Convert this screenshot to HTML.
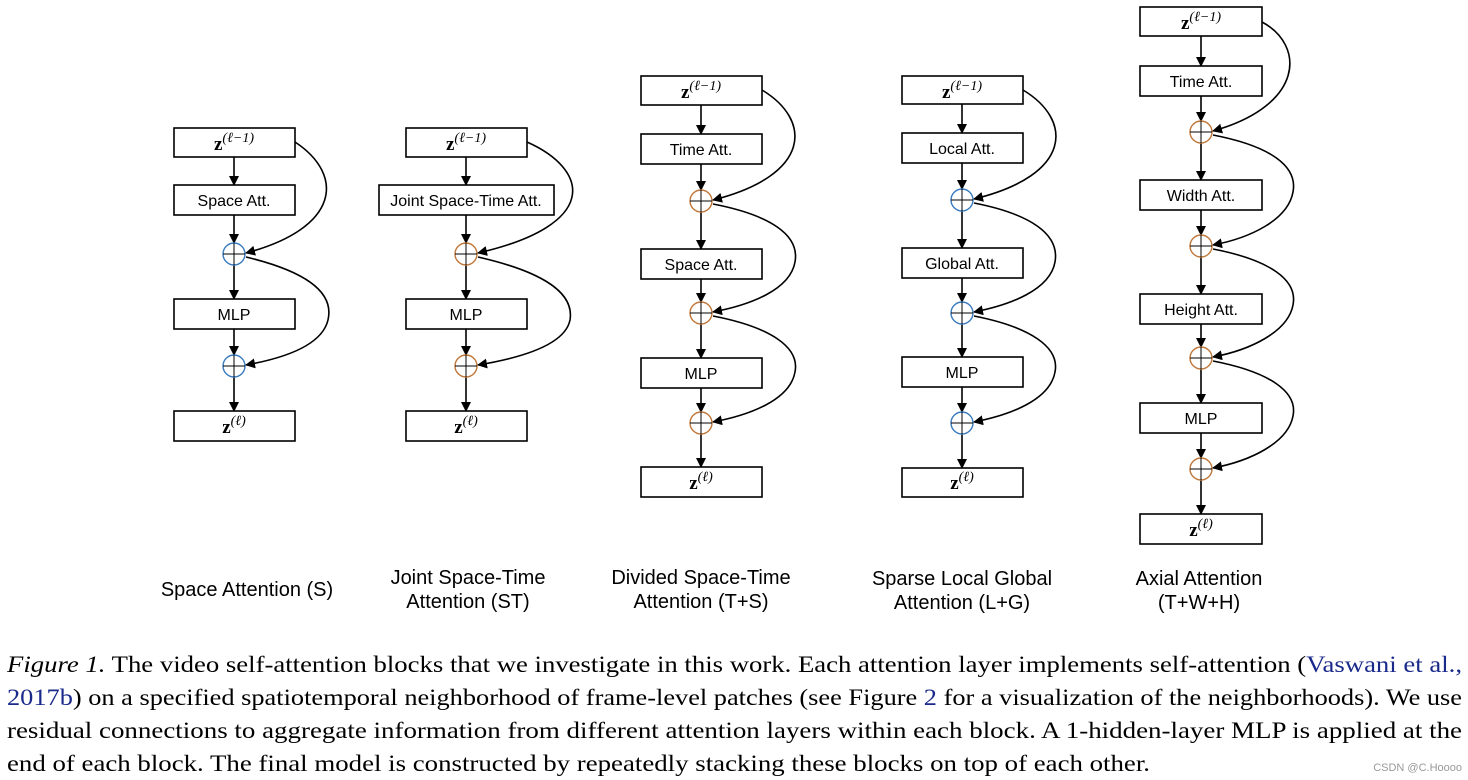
<!DOCTYPE html>
<html><head><meta charset="utf-8"><style>
html,body{margin:0;padding:0;background:#fff;}
svg{display:block;}
.b{fill:#fff;stroke:#000;stroke-width:1.6;}
.l{stroke:#000;stroke-width:1.6;fill:none;}
.t{font-family:"Liberation Sans",sans-serif;font-size:16px;text-anchor:middle;}
.z{font-family:"Liberation Serif",serif;font-size:19px;font-weight:bold;text-anchor:middle;}
.cap{font-family:"Liberation Sans",sans-serif;font-size:20px;text-anchor:middle;}
.s{font-family:"Liberation Serif",serif;font-size:23.5px;}
</style></head><body>
<svg width="1468" height="780" xmlns="http://www.w3.org/2000/svg">
<defs><marker id="a" markerWidth="10" markerHeight="10" refX="9" refY="5" orient="auto" markerUnits="userSpaceOnUse"><path d="M0,0 L10,5 L0,10 z" fill="#000"/></marker></defs>

<g>
<line class="l" x1="234" y1="157" x2="234" y2="185" marker-end="url(#a)"/>
<line class="l" x1="234" y1="215" x2="234" y2="243" marker-end="url(#a)"/>
<line class="l" x1="234" y1="265" x2="234" y2="299" marker-end="url(#a)"/>
<line class="l" x1="234" y1="329" x2="234" y2="355" marker-end="url(#a)"/>
<line class="l" x1="234" y1="377" x2="234" y2="411" marker-end="url(#a)"/>
<rect class="b" x="174" y="128" width="121" height="29"/><text class="z" x="234" y="150">z<tspan font-size="14" font-weight="normal" font-style="italic" dy="-8">(ℓ−1)</tspan></text>
<rect class="b" x="174" y="185" width="121" height="30"/><text class="t" x="234" y="206">Space Att.</text>
<rect class="b" x="174" y="299" width="121" height="30"/><text class="t" x="234" y="320">MLP</text>
<rect class="b" x="174" y="411" width="121" height="30"/><text class="z" x="234" y="433">z<tspan font-size="14" font-weight="normal" font-style="italic" dy="-8">(ℓ)</tspan></text>
<circle cx="234" cy="254" r="11" fill="#fff" stroke="#3a7bbf" stroke-width="1.4"/><path d="M223,254H245M234,243V265" stroke="#000" stroke-width="1"/>
<circle cx="234" cy="366" r="11" fill="#fff" stroke="#3a7bbf" stroke-width="1.4"/><path d="M223,366H245M234,355V377" stroke="#000" stroke-width="1"/>
<path class="l" d="M295,142 C345,175 340,228 246,253" marker-end="url(#a)"/>
<path class="l" d="M246,257 C300,270 335,290 328,320 C322,345 285,358 246,365" marker-end="url(#a)"/>
</g>

<g>
<line class="l" x1="466" y1="157" x2="466" y2="185" marker-end="url(#a)"/>
<line class="l" x1="466" y1="215" x2="466" y2="243" marker-end="url(#a)"/>
<line class="l" x1="466" y1="265" x2="466" y2="299" marker-end="url(#a)"/>
<line class="l" x1="466" y1="329" x2="466" y2="355" marker-end="url(#a)"/>
<line class="l" x1="466" y1="377" x2="466" y2="411" marker-end="url(#a)"/>
<rect class="b" x="406" y="128" width="121" height="29"/><text class="z" x="466" y="150">z<tspan font-size="14" font-weight="normal" font-style="italic" dy="-8">(ℓ−1)</tspan></text>
<rect class="b" x="379" y="185" width="175" height="30"/><text class="t" x="466" y="206">Joint Space-Time Att.</text>
<rect class="b" x="406" y="299" width="121" height="30"/><text class="t" x="466" y="320">MLP</text>
<rect class="b" x="406" y="411" width="121" height="30"/><text class="z" x="466" y="433">z<tspan font-size="14" font-weight="normal" font-style="italic" dy="-8">(ℓ)</tspan></text>
<circle cx="466" cy="254" r="11" fill="#fff" stroke="#c0773a" stroke-width="1.4"/><path d="M455,254H477M466,243V265" stroke="#000" stroke-width="1"/>
<circle cx="466" cy="366" r="11" fill="#fff" stroke="#c0773a" stroke-width="1.4"/><path d="M455,366H477M466,355V377" stroke="#000" stroke-width="1"/>
<path class="l" d="M527,142 C590,170 600,225 478,253" marker-end="url(#a)"/>
<path class="l" d="M478,257 C535,270 575,290 570,320 C565,345 520,358 478,365" marker-end="url(#a)"/>
</g>

<g>
<line class="l" x1="701" y1="105" x2="701" y2="134" marker-end="url(#a)"/>
<line class="l" x1="701" y1="164" x2="701" y2="190" marker-end="url(#a)"/>
<line class="l" x1="701" y1="212" x2="701" y2="249" marker-end="url(#a)"/>
<line class="l" x1="701" y1="279" x2="701" y2="302" marker-end="url(#a)"/>
<line class="l" x1="701" y1="324" x2="701" y2="358" marker-end="url(#a)"/>
<line class="l" x1="701" y1="388" x2="701" y2="412" marker-end="url(#a)"/>
<line class="l" x1="701" y1="434" x2="701" y2="467" marker-end="url(#a)"/>
<rect class="b" x="641" y="76" width="121" height="29"/><text class="z" x="701" y="98">z<tspan font-size="14" font-weight="normal" font-style="italic" dy="-8">(ℓ−1)</tspan></text>
<rect class="b" x="641" y="134" width="121" height="30"/><text class="t" x="701" y="155">Time Att.</text>
<rect class="b" x="641" y="249" width="121" height="30"/><text class="t" x="701" y="270">Space Att.</text>
<rect class="b" x="641" y="358" width="121" height="30"/><text class="t" x="701" y="379">MLP</text>
<rect class="b" x="641" y="467" width="121" height="30"/><text class="z" x="701" y="489">z<tspan font-size="14" font-weight="normal" font-style="italic" dy="-8">(ℓ)</tspan></text>
<circle cx="701" cy="201" r="11" fill="#fff" stroke="#c0773a" stroke-width="1.4"/><path d="M690,201H712M701,190V212" stroke="#000" stroke-width="1"/>
<circle cx="701" cy="313" r="11" fill="#fff" stroke="#c0773a" stroke-width="1.4"/><path d="M690,313H712M701,302V324" stroke="#000" stroke-width="1"/>
<circle cx="701" cy="423" r="11" fill="#fff" stroke="#c0773a" stroke-width="1.4"/><path d="M690,423H712M701,412V434" stroke="#000" stroke-width="1"/>
<path class="l" d="M762,90 C812,120 812,175 713,200" marker-end="url(#a)"/>
<path class="l" d="M713,204 C770,215 800,235 795,262 C790,290 750,305 713,312" marker-end="url(#a)"/>
<path class="l" d="M713,316 C770,327 800,347 795,372 C790,400 750,415 713,422" marker-end="url(#a)"/>
</g>

<g>
<line class="l" x1="962" y1="104" x2="962" y2="133" marker-end="url(#a)"/>
<line class="l" x1="962" y1="163" x2="962" y2="189" marker-end="url(#a)"/>
<line class="l" x1="962" y1="211" x2="962" y2="248" marker-end="url(#a)"/>
<line class="l" x1="962" y1="278" x2="962" y2="302" marker-end="url(#a)"/>
<line class="l" x1="962" y1="324" x2="962" y2="357" marker-end="url(#a)"/>
<line class="l" x1="962" y1="387" x2="962" y2="412" marker-end="url(#a)"/>
<line class="l" x1="962" y1="434" x2="962" y2="468" marker-end="url(#a)"/>
<rect class="b" x="902" y="76" width="121" height="28"/><text class="z" x="962" y="98">z<tspan font-size="14" font-weight="normal" font-style="italic" dy="-8">(ℓ−1)</tspan></text>
<rect class="b" x="902" y="133" width="121" height="30"/><text class="t" x="962" y="154">Local Att.</text>
<rect class="b" x="902" y="248" width="121" height="30"/><text class="t" x="962" y="269">Global Att.</text>
<rect class="b" x="902" y="357" width="121" height="30"/><text class="t" x="962" y="378">MLP</text>
<rect class="b" x="902" y="468" width="121" height="29"/><text class="z" x="962" y="489">z<tspan font-size="14" font-weight="normal" font-style="italic" dy="-8">(ℓ)</tspan></text>
<circle cx="962" cy="200" r="11" fill="#fff" stroke="#3a7bbf" stroke-width="1.4"/><path d="M951,200H973M962,189V211" stroke="#000" stroke-width="1"/>
<circle cx="962" cy="313" r="11" fill="#fff" stroke="#3a7bbf" stroke-width="1.4"/><path d="M951,313H973M962,302V324" stroke="#000" stroke-width="1"/>
<circle cx="962" cy="423" r="11" fill="#fff" stroke="#3a7bbf" stroke-width="1.4"/><path d="M951,423H973M962,412V434" stroke="#000" stroke-width="1"/>
<path class="l" d="M1023,90 C1073,120 1073,175 974,199" marker-end="url(#a)"/>
<path class="l" d="M974,203 C1030,214 1060,234 1055,262 C1050,290 1010,305 974,312" marker-end="url(#a)"/>
<path class="l" d="M974,316 C1030,327 1060,347 1055,372 C1050,400 1010,415 974,422" marker-end="url(#a)"/>
</g>

<g>
<line class="l" x1="1201" y1="36" x2="1201" y2="66" marker-end="url(#a)"/>
<line class="l" x1="1201" y1="96" x2="1201" y2="121" marker-end="url(#a)"/>
<line class="l" x1="1201" y1="143" x2="1201" y2="180" marker-end="url(#a)"/>
<line class="l" x1="1201" y1="210" x2="1201" y2="235" marker-end="url(#a)"/>
<line class="l" x1="1201" y1="257" x2="1201" y2="294" marker-end="url(#a)"/>
<line class="l" x1="1201" y1="324" x2="1201" y2="347" marker-end="url(#a)"/>
<line class="l" x1="1201" y1="369" x2="1201" y2="403" marker-end="url(#a)"/>
<line class="l" x1="1201" y1="433" x2="1201" y2="458" marker-end="url(#a)"/>
<line class="l" x1="1201" y1="480" x2="1201" y2="514" marker-end="url(#a)"/>
<rect class="b" x="1140" y="7" width="122" height="29"/><text class="z" x="1201" y="29">z<tspan font-size="14" font-weight="normal" font-style="italic" dy="-8">(ℓ−1)</tspan></text>
<rect class="b" x="1140" y="66" width="122" height="30"/><text class="t" x="1201" y="87">Time Att.</text>
<rect class="b" x="1140" y="180" width="122" height="30"/><text class="t" x="1201" y="201">Width Att.</text>
<rect class="b" x="1140" y="294" width="122" height="30"/><text class="t" x="1201" y="315">Height Att.</text>
<rect class="b" x="1140" y="403" width="122" height="30"/><text class="t" x="1201" y="424">MLP</text>
<rect class="b" x="1140" y="514" width="122" height="30"/><text class="z" x="1201" y="536">z<tspan font-size="14" font-weight="normal" font-style="italic" dy="-8">(ℓ)</tspan></text>
<circle cx="1201" cy="132" r="11" fill="#fff" stroke="#c0773a" stroke-width="1.4"/><path d="M1190,132H1212M1201,121V143" stroke="#000" stroke-width="1"/>
<circle cx="1201" cy="246" r="11" fill="#fff" stroke="#c0773a" stroke-width="1.4"/><path d="M1190,246H1212M1201,235V257" stroke="#000" stroke-width="1"/>
<circle cx="1201" cy="358" r="11" fill="#fff" stroke="#c0773a" stroke-width="1.4"/><path d="M1190,358H1212M1201,347V369" stroke="#000" stroke-width="1"/>
<circle cx="1201" cy="469" r="11" fill="#fff" stroke="#c0773a" stroke-width="1.4"/><path d="M1190,469H1212M1201,458V480" stroke="#000" stroke-width="1"/>
<path class="l" d="M1262,22 C1305,45 1305,105 1213,131" marker-end="url(#a)"/>
<path class="l" d="M1213,135 C1270,146 1298,166 1293,192 C1288,220 1250,238 1213,245" marker-end="url(#a)"/>
<path class="l" d="M1213,249 C1270,260 1298,280 1293,305 C1288,332 1250,350 1213,357" marker-end="url(#a)"/>
<path class="l" d="M1213,361 C1270,372 1298,392 1293,416 C1288,443 1250,461 1213,468" marker-end="url(#a)"/>
</g>

<text class="cap" x="247" y="596">Space Attention (S)</text>
<text class="cap" x="468" y="584">Joint Space-Time</text>
<text class="cap" x="468" y="608">Attention (ST)</text>
<text class="cap" x="701" y="584">Divided Space-Time</text>
<text class="cap" x="701" y="608">Attention (T+S)</text>
<text class="cap" x="962" y="585">Sparse Local Global</text>
<text class="cap" x="962" y="609">Attention (L+G)</text>
<text class="cap" x="1199" y="585">Axial Attention</text>
<text class="cap" x="1199" y="609">(T+W+H)</text>

<text class="s" x="7" y="672" textLength="1455" lengthAdjust="spacingAndGlyphs"><tspan font-style="italic">Figure 1.</tspan> The video self-attention blocks that we investigate in this work. Each attention layer implements self-attention (<tspan fill="#1a2a8a">Vaswani et al.,</tspan></text>
<text class="s" x="7" y="705" textLength="1455" lengthAdjust="spacingAndGlyphs"><tspan fill="#1a2a8a">2017b</tspan>) on a specified spatiotemporal neighborhood of frame-level patches (see Figure <tspan fill="#1a2a8a">2</tspan> for a visualization of the neighborhoods). We use</text>
<text class="s" x="7" y="738" textLength="1455" lengthAdjust="spacingAndGlyphs">residual connections to aggregate information from different attention layers within each block. A 1-hidden-layer MLP is applied at the</text>
<text class="s" x="7" y="771" textLength="1143" lengthAdjust="spacingAndGlyphs">end of each block. The final model is constructed by repeatedly stacking these blocks on top of each other.</text>
<text x="1462" y="771" font-family="Liberation Sans,sans-serif" font-size="11" fill="#999" text-anchor="end">CSDN @C.Hoooo</text>
</svg>
</body></html>
